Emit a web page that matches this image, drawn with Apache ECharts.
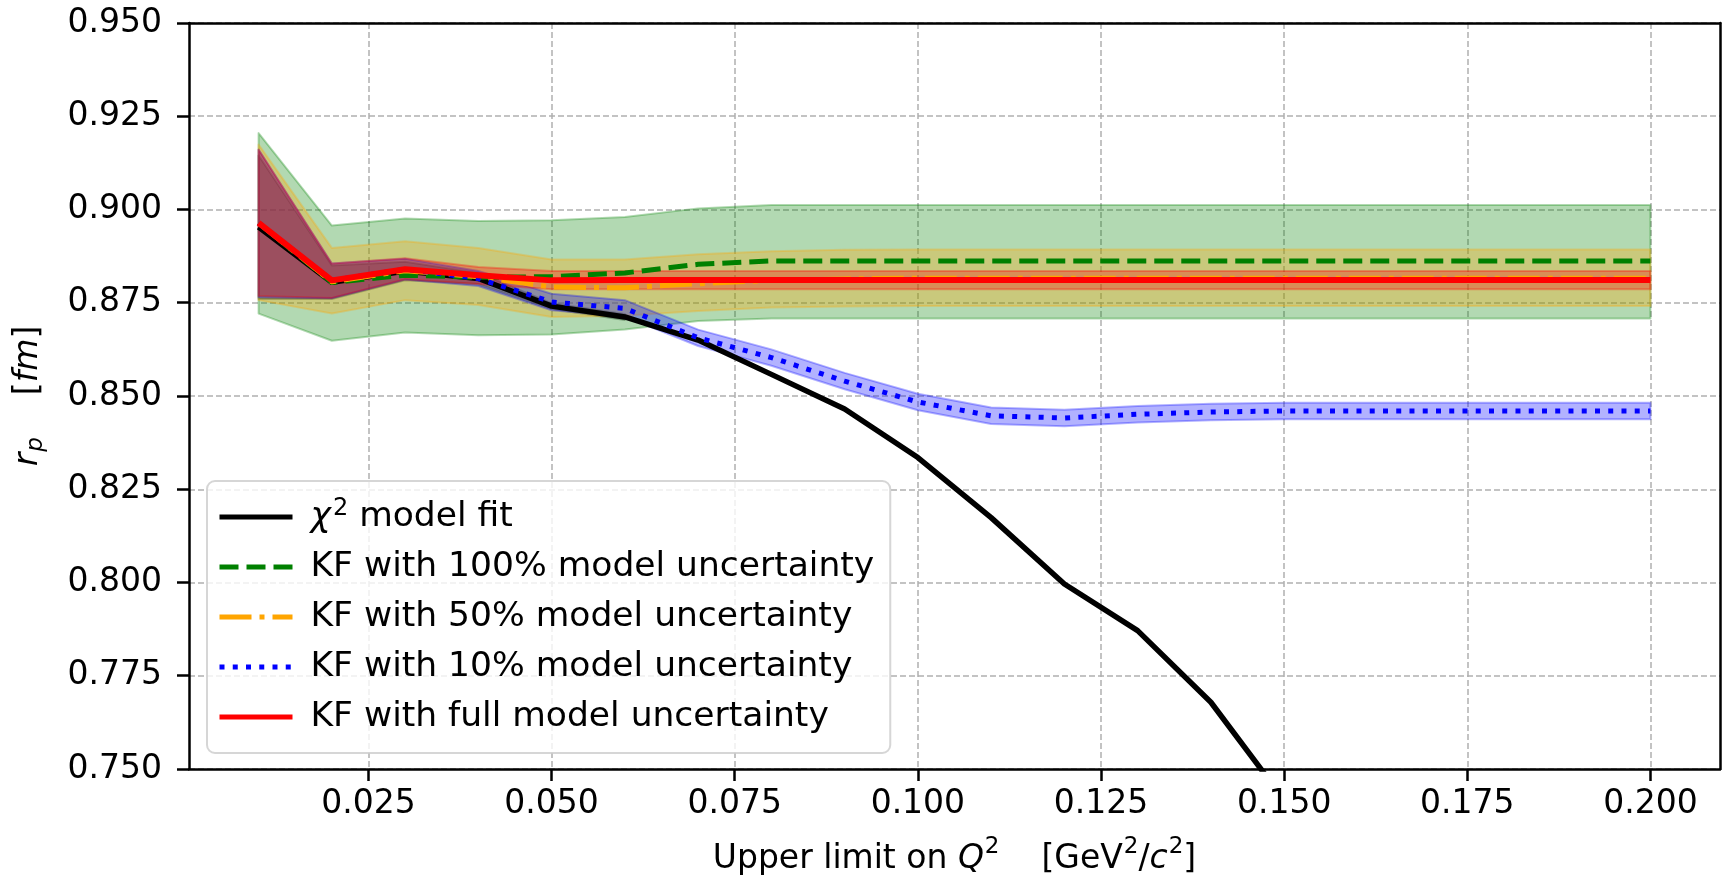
<!DOCTYPE html>
<html>
<head>
<meta charset="utf-8">
<script src="https://cdn.jsdelivr.net/npm/echarts@6/dist/echarts.min.js"></script>
<style>
  html, body { margin: 0; padding: 0; background: #ffffff; }
  #chart { width: 1726px; height: 877px; }
</style>
</head>
<body>
<div id="chart"></div>
<script>
// Upper limit on Q^2 for each fit (GeV^2/c^2)
const q2 = [0.01, 0.02, 0.03, 0.04, 0.05, 0.06, 0.07, 0.08, 0.09, 0.10,
            0.11, 0.12, 0.13, 0.14, 0.15, 0.16, 0.17, 0.18, 0.19, 0.20];

// chi^2 model fit (falls off the bottom of the plot after 0.15)
const chi2Fit = [0.8953, 0.8805, 0.8835, 0.8815, 0.8741, 0.8712, 0.8650, 0.8558, 0.8465, 0.8335,
                 0.8174, 0.7996, 0.7871, 0.7679, 0.7417, null, null, null, null, null];
const chi2Hi  = [0.9145, 0.8850, 0.8860, 0.8830, 0.8749, 0.8720, null, null, null, null,
                 null, null, null, null, null, null, null, null, null, null];
const chi2Lo  = [0.8760, 0.8760, 0.8810, 0.8800, 0.8733, 0.8704, null, null, null, null,
                 null, null, null, null, null, null, null, null, null, null];

// Kalman filter, 100% model uncertainty
const kf100   = [0.8964, 0.8804, 0.8824, 0.8818, 0.8820, 0.8830, 0.8853, 0.8862, 0.8862, 0.8862,
                 0.8862, 0.8862, 0.8862, 0.8862, 0.8862, 0.8862, 0.8862, 0.8862, 0.8862, 0.8862];
const kf100Hi = [0.9205, 0.8957, 0.8976, 0.8969, 0.8971, 0.8980, 0.9003, 0.9012, 0.9012, 0.9012,
                 0.9012, 0.9012, 0.9012, 0.9012, 0.9012, 0.9012, 0.9012, 0.9012, 0.9012, 0.9012];
const kf100Lo = [0.8721, 0.8648, 0.8670, 0.8663, 0.8665, 0.8678, 0.8701, 0.8708, 0.8708, 0.8708,
                 0.8708, 0.8708, 0.8708, 0.8708, 0.8708, 0.8708, 0.8708, 0.8708, 0.8708, 0.8708];

// Kalman filter, 50% model uncertainty
const kf50    = [0.8964, 0.8806, 0.8836, 0.8820, 0.8792, 0.8790, 0.8801, 0.8810, 0.8814, 0.8816,
                 0.8816, 0.8816, 0.8816, 0.8816, 0.8816, 0.8816, 0.8816, 0.8816, 0.8816, 0.8816];
const kf50Hi  = [0.9174, 0.8897, 0.8915, 0.8897, 0.8866, 0.8866, 0.8880, 0.8888, 0.8892, 0.8893,
                 0.8893, 0.8893, 0.8893, 0.8893, 0.8893, 0.8893, 0.8893, 0.8893, 0.8893, 0.8893];
const kf50Lo  = [0.8757, 0.8721, 0.8757, 0.8744, 0.8712, 0.8715, 0.8728, 0.8737, 0.8740, 0.8741,
                 0.8741, 0.8741, 0.8741, 0.8741, 0.8741, 0.8741, 0.8741, 0.8741, 0.8741, 0.8741];

// Kalman filter, 10% model uncertainty
const kf10    = [0.8964, 0.8810, 0.8840, 0.8815, 0.8752, 0.8735, 0.8656, 0.8603, 0.8540, 0.8484,
                 0.8447, 0.8441, 0.8451, 0.8457, 0.8460, 0.8460, 0.8460, 0.8460, 0.8460, 0.8460];
const kf10Hi  = [0.9160, 0.8855, 0.8868, 0.8835, 0.8774, 0.8757, 0.8678, 0.8625, 0.8562, 0.8506,
                 0.8469, 0.8463, 0.8473, 0.8479, 0.8482, 0.8482, 0.8482, 0.8482, 0.8482, 0.8482];
const kf10Lo  = [0.8765, 0.8762, 0.8812, 0.8795, 0.8730, 0.8713, 0.8634, 0.8581, 0.8518, 0.8462,
                 0.8425, 0.8419, 0.8429, 0.8435, 0.8438, 0.8438, 0.8438, 0.8438, 0.8438, 0.8438];

// Kalman filter, full model uncertainty
const kfFull   = [0.8964, 0.8810, 0.8840, 0.8824, 0.8810, 0.8811, 0.8811, 0.8811, 0.8811, 0.8811,
                  0.8811, 0.8811, 0.8811, 0.8811, 0.8811, 0.8811, 0.8811, 0.8811, 0.8811, 0.8811];
const kfFullHi = [0.9161, 0.8855, 0.8869, 0.8846, 0.8835, 0.8835, 0.8835, 0.8835, 0.8835, 0.8835,
                  0.8835, 0.8835, 0.8835, 0.8835, 0.8835, 0.8835, 0.8835, 0.8835, 0.8835, 0.8835];
const kfFullLo = [0.8768, 0.8763, 0.8813, 0.8800, 0.8786, 0.8786, 0.8786, 0.8786, 0.8786, 0.8786,
                  0.8786, 0.8786, 0.8786, 0.8786, 0.8786, 0.8786, 0.8786, 0.8786, 0.8786, 0.8786];

// Axis ticks
const xTicks = [0.025, 0.050, 0.075, 0.100, 0.125, 0.150, 0.175, 0.200];
const xRange = [0.0005, 0.2095];
const yRange = [0.750, 0.950];
const yStep = 0.025;

const FONT = 'DejaVu Sans';
const FS = 33;
const LFS = 34.5;

// Legend labels
const legendText = {
  chi2: '{it|χ}{sup|2}{n| model fit}',
  kf100: 'KF with 100% model uncertainty',
  kf50: 'KF with 50% model uncertainty',
  kf10: 'KF with 10% model uncertainty',
  kfFull: 'KF with full model uncertainty'
};

function pairs(ys) {
  return q2.map((x, i) => [x, ys[i]]);
}

// Shaded uncertainty band: one polygon through the upper edge and back along the lower edge
function band(id, lo, hi, rgb) {
  const data = [];
  q2.forEach((x, i) => {
    if (lo[i] != null && hi[i] != null) data.push([x, lo[i], hi[i]]);
  });
  return {
    type: 'custom',
    id: id,
    silent: true,
    clip: true,
    z: 1,
    data: data,
    encode: { x: 0, y: [1, 2] },
    renderItem: function (params, api) {
      if (params.dataIndex !== 0) return null;
      const upper = data.map(d => api.coord([d[0], d[2]]));
      const lower = data.map(d => api.coord([d[0], d[1]])).reverse();
      return {
        type: 'polygon',
        shape: { points: upper.concat(lower) },
        style: {
          fill: 'rgba(' + rgb + ',0.3)',
          stroke: 'rgba(' + rgb + ',0.3)',
          lineWidth: 2,
          lineJoin: 'round'
        }
      };
    }
  };
}

function line(name, ys, color, width, dash, z) {
  return {
    type: 'line',
    name: name,
    data: pairs(ys),
    symbol: 'none',
    showSymbol: false,
    clip: true,
    z: z,
    connectNulls: false,
    itemStyle: { color: color },
    lineStyle: { color: color, width: width, type: dash, cap: 'butt', join: 'round' },
    emphasis: { disabled: true }
  };
}

const spine = { show: true, onZero: false, lineStyle: { color: '#000', width: 2.5 } };
const grid = { color: '#b0b0b0', width: 1.5, type: [6, 3] };

const chart = echarts.init(document.getElementById('chart'), null, { renderer: 'canvas' });

chart.setOption({
  animation: false,
  backgroundColor: '#ffffff',
  textStyle: { fontFamily: FONT },
  grid: {
    left: 189, right: 6, top: 23, bottom: 108,
    show: false,
    containLabel: false,
    outerBoundsMode: 'none'
  },
  xAxis: [{
    type: 'value',
    min: xRange[0], max: xRange[1],
    name: '{n|Upper limit on }{it|Q}{sup|2}{n|    [GeV}{sup|2}{n|/}{it|c}{sup|2}{n|]}',
    nameLocation: 'middle',
    nameGap: 67,
    nameTextStyle: {
      rich: {
        n: { fontFamily: FONT, fontSize: FS, color: '#000', lineHeight: 40, verticalAlign: 'bottom' },
        it: { fontFamily: FONT, fontSize: FS, fontStyle: 'italic', color: '#000', lineHeight: 40, verticalAlign: 'bottom' },
        sup: { fontFamily: FONT, fontSize: 23, color: '#000', lineHeight: 40, verticalAlign: 'top', padding: [0, 0, 0, 1] }
      }
    },
    axisLine: spine,
    axisTick: { show: true, inside: false, length: 12, customValues: xTicks, lineStyle: { color: '#000', width: 2.5 } },
    axisLabel: {
      show: true, customValues: xTicks, margin: 19,
      fontFamily: FONT, fontSize: FS, color: '#000', lineHeight: 33,
      formatter: v => v.toFixed(3)
    },
    splitLine: { show: true, lineStyle: grid }
  }, {
    // top spine
    type: 'value', position: 'top',
    min: xRange[0], max: xRange[1],
    axisLine: spine, axisTick: { show: false }, axisLabel: { show: false }, splitLine: { show: false }
  }],
  yAxis: [{
    type: 'value',
    min: yRange[0], max: yRange[1], interval: yStep,
    name: '{it|r}{sub|p}{n|    [}{it|fm}{n|]}',
    nameLocation: 'middle',
    nameGap: 141,
    nameRotate: 90,
    nameTextStyle: {
      rich: {
        n: { fontFamily: FONT, fontSize: FS, color: '#000', lineHeight: 40 },
        it: { fontFamily: FONT, fontSize: FS, fontStyle: 'italic', color: '#000', lineHeight: 40 },
        sub: { fontFamily: FONT, fontSize: 23, fontStyle: 'italic', color: '#000', lineHeight: 40, verticalAlign: 'bottom', padding: [0, 0, 0, 1] }
      }
    },
    axisLine: spine,
    axisTick: { show: true, inside: false, length: 12, lineStyle: { color: '#000', width: 2.5 } },
    axisLabel: {
      show: true, margin: 27,
      fontFamily: FONT, fontSize: FS, color: '#000',
      formatter: v => v.toFixed(3)
    },
    splitLine: { show: true, lineStyle: grid }
  }, {
    // right spine
    type: 'value', position: 'right',
    min: yRange[0], max: yRange[1],
    axisLine: spine, axisTick: { show: false }, axisLabel: { show: false }, splitLine: { show: false }
  }],
  legend: {
    show: true,
    orient: 'vertical',
    left: 207, top: 481,
    padding: [16, 16, 16, 10],
    itemGap: 10,
    itemWidth: 73,
    itemHeight: 20,
    backgroundColor: 'rgba(255,255,255,0.8)',
    borderColor: 'rgba(204,204,204,0.8)',
    borderWidth: 2,
    borderRadius: 8,
    selectedMode: false,
    data: ['chi2', 'kf100', 'kf50', 'kf10', 'kfFull'],
    formatter: name => legendText[name],
    itemStyle: { opacity: 0 },
    lineStyle: { width: 5 },
    textStyle: {
      fontFamily: FONT, fontSize: LFS, color: '#000', lineHeight: 40,
      padding: [0, 0, 0, 13],
      rich: {
        n: { fontFamily: FONT, fontSize: LFS, color: '#000', lineHeight: 40 },
        it: { fontFamily: FONT, fontSize: LFS, fontStyle: 'italic', color: '#000', lineHeight: 40 },
        sup: { fontFamily: FONT, fontSize: 24, color: '#000', lineHeight: 40, verticalAlign: 'top', padding: [0, 0, 0, 2] }
      }
    }
  },
  series: [
    band('chi2Band', chi2Lo, chi2Hi, '0,0,0'),
    band('kf100Band', kf100Lo, kf100Hi, '0,128,0'),
    band('kf50Band', kf50Lo, kf50Hi, '255,165,0'),
    band('kf10Band', kf10Lo, kf10Hi, '0,0,255'),
    band('kfFullBand', kfFullLo, kfFullHi, '255,0,0'),
    line('chi2', chi2Fit, '#000000', 5.5, 'solid', 3),
    line('kf100', kf100, '#008000', 5, [19, 8], 4),
    line('kf50', kf50, '#FFA500', 5, [32, 8, 5, 8], 5),
    line('kf10', kf10, '#0000FF', 5, [5, 8.25], 6),
    line('kfFull', kfFull, '#FF0000', 6, 'solid', 7)
  ]
});
</script>
</body>
</html>
